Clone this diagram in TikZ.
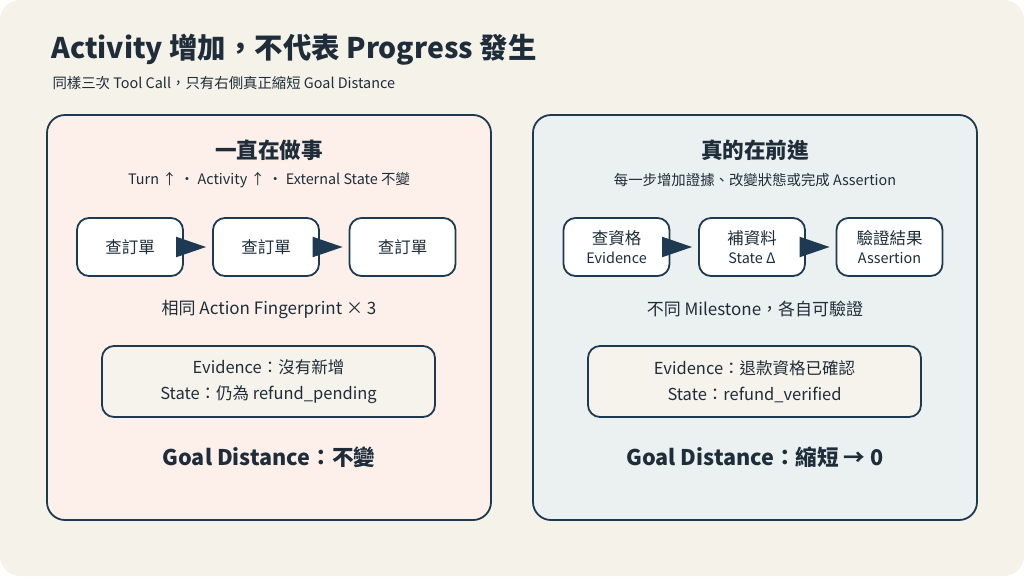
\documentclass[tikz,border=0pt]{standalone}
\usepackage{fontspec}
\setmainfont{Noto Sans CJK TC}
\usetikzlibrary{arrows.meta}
\definecolor{bg}{HTML}{F5F2EA}
\definecolor{ink}{HTML}{1E3A52}
\definecolor{txt}{HTML}{1F2D3A}
\definecolor{lp}{HTML}{FDF0EB}
\definecolor{rp}{HTML}{EAF1F0}
\definecolor{note}{HTML}{F6F3EC}
\tikzset{
 panel/.style={draw=ink,line width=1.8pt,rounded corners=18pt},
 stepbox/.style={draw=ink,line width=1.8pt,rounded corners=12pt,fill=white,minimum width=106pt,minimum height=58pt,inner sep=0pt,align=center,text=txt,font=\fontsize{16.5}{20}\selectfont},
 notebox/.style={draw=ink,line width=1.8pt,rounded corners=12pt,fill=note,minimum width=333pt,minimum height=71pt,align=center,text=txt,font=\fontsize{16.5}{26}\selectfont},
 arr/.style={-{Triangle[length=30pt,width=20pt]},line width=2pt,draw=ink,shorten >=6pt, shorten <=-8pt},
 h/.style={text=txt,font=\bfseries\fontsize{21.6}{26}\selectfont},
 sub/.style={text=txt,font=\fontsize{14.4}{17}\selectfont},
 mid/.style={text=txt,font=\fontsize{17}{20}\selectfont},
}
\begin{document}
\begin{tikzpicture}[x=1pt,y=-1pt]
\fill[bg,rounded corners=20pt] (0,0) rectangle (1024,576);
\useasboundingbox (0,0) rectangle (1024,576);
\node[anchor=west,text=txt,font=\bfseries\fontsize{28.4}{32}\selectfont] (title) at (48,50) {Activity 增加，不代表 Progress 發生};
\node[anchor=west,sub] (subtitle) at (49,83) {同樣三次 Tool Call，只有右側真正縮短 Goal Distance};
\draw[panel,fill=lp] (47,115) rectangle (491,520);
\draw[panel,fill=rp] (533,115) rectangle (977,520);
% left
\node[h] (lh) at (269,150) {一直在做事};
\node[sub] (ls) at (269,180) {Turn ↑ ・ Activity ↑ ・ External State 不變};
\node[stepbox] (a1) at (130,247) {查訂單};
\node[stepbox] (a2) at (266,247) {查訂單};
\node[stepbox] (a3) at (402.5,247) {查訂單};
\draw[arr] (a1.east) -- (a2.west);
\draw[arr] (a2.east) -- (a3.west);
\node[mid] (lm) at (269,309) {相同 Action Fingerprint × 3};
\node[notebox] (ln) at (268.5,381.5) {Evidence：沒有新增\\State：仍為 refund\_pending};
\node[h] (lg) at (269,457) {Goal Distance：不變};
% right
\node[h] (rh) at (755,150) {真的在前進};
\node[sub] (rs) at (755,180) {每一步增加證據、改變狀態或完成 Assertion};
\node[stepbox] (b1) at (616.5,247) {查資格\\[-1pt]{\fontsize{14.4}{17}\selectfont Evidence}};
\node[stepbox] (b2) at (752,247) {補資料\\[-1pt]{\fontsize{14.4}{17}\selectfont State Δ}};
\node[stepbox] (b3) at (889.5,247) {驗證結果\\[-1pt]{\fontsize{14.4}{17}\selectfont Assertion}};
\draw[arr] (b1.east) -- (b2.west);
\draw[arr] (b2.east) -- (b3.west);
\node[mid] (rm) at (755,309) {不同 Milestone，各自可驗證};
\node[notebox] (rn) at (754.5,381.5) {Evidence：退款資格已確認\\State：refund\_verified};
\node[h] (rg) at (755,457) {Goal Distance：縮短 → 0};
\end{tikzpicture}
\end{document}
